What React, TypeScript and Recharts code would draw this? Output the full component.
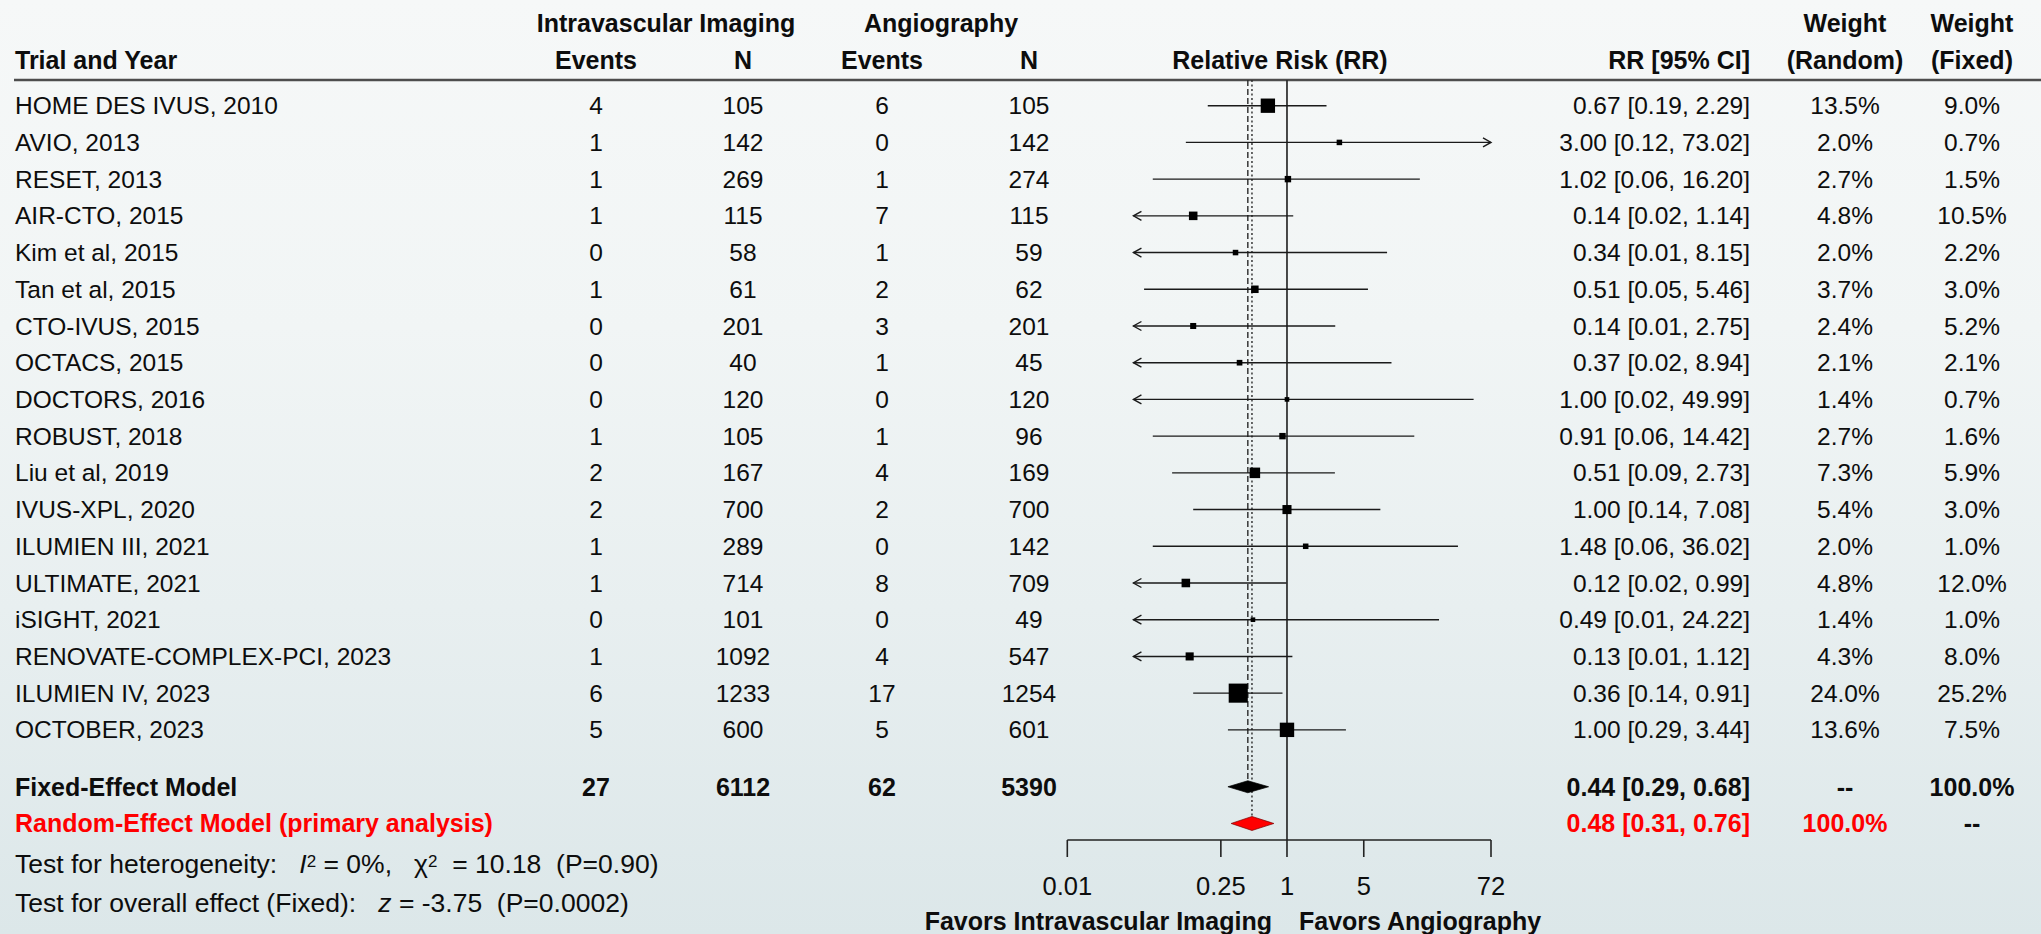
import React from "react";
import { ComposedChart, XAxis, YAxis, Scatter, ReferenceLine, Customized } from "recharts";

// ---------------- data ----------------
const trials = [
  "HOME DES IVUS, 2010",
  "AVIO, 2013",
  "RESET, 2013",
  "AIR-CTO, 2015",
  "Kim et al, 2015",
  "Tan et al, 2015",
  "CTO-IVUS, 2015",
  "OCTACS, 2015",
  "DOCTORS, 2016",
  "ROBUST, 2018",
  "Liu et al, 2019",
  "IVUS-XPL, 2020",
  "ILUMIEN III, 2021",
  "ULTIMATE, 2021",
  "iSIGHT, 2021",
  "RENOVATE-COMPLEX-PCI, 2023",
  "ILUMIEN IV, 2023",
  "OCTOBER, 2023",
];
const iviEvents = [4, 1, 1, 1, 0, 1, 0, 0, 0, 1, 2, 2, 1, 1, 0, 1, 6, 5];
const iviN = [105, 142, 269, 115, 58, 61, 201, 40, 120, 105, 167, 700, 289, 714, 101, 1092, 1233, 600];
const angioEvents = [6, 0, 1, 7, 1, 2, 3, 1, 0, 1, 4, 2, 0, 8, 0, 4, 17, 5];
const angioN = [105, 142, 274, 115, 59, 62, 201, 45, 120, 96, 169, 700, 142, 709, 49, 547, 1254, 601];
const rr = [0.67, 3.0, 1.02, 0.14, 0.34, 0.51, 0.14, 0.37, 1.0, 0.91, 0.51, 1.0, 1.48, 0.12, 0.49, 0.13, 0.36, 1.0];
const ciLow = [0.19, 0.12, 0.06, 0.02, 0.01, 0.05, 0.01, 0.02, 0.02, 0.06, 0.09, 0.14, 0.06, 0.02, 0.01, 0.01, 0.14, 0.29];
const ciHigh = [2.29, 73.02, 16.2, 1.14, 8.15, 5.46, 2.75, 8.94, 49.99, 14.42, 2.73, 7.08, 36.02, 0.99, 24.22, 1.12, 0.91, 3.44];
const weightRandom = [13.5, 2.0, 2.7, 4.8, 2.0, 3.7, 2.4, 2.1, 1.4, 2.7, 7.3, 5.4, 2.0, 4.8, 1.4, 4.3, 24.0, 13.6];
const weightFixed = [9.0, 0.7, 1.5, 10.5, 2.2, 3.0, 5.2, 2.1, 0.7, 1.6, 5.9, 3.0, 1.0, 12.0, 1.0, 8.0, 25.2, 7.5];

const fixedLabel = "Fixed-Effect Model";
const randomLabel = "Random-Effect Model (primary analysis)";
const fixedTotals = [27, 6112, 62, 5390];
const fixedSummary = [0.44, 0.29, 0.68];
const randomSummary = [0.48, 0.31, 0.76];
const xTicks = [0.01, 0.25, 1, 5, 72];
const heterogeneity = { i2: "0%", chi2: "10.18", p: "0.90" };
const overall = { z: "-3.75", p: "0.0002" };

// ---------------- layout ----------------
const W = 2041;
const H = 934;
const PLOT_LEFT = 1067.3;
const PLOT_RIGHT = 1491;
const PLOT_TOP = 80;
const X_AXIS_H = 94;
const CLIP_LO = 0.04;
const CLIP_HI = 72;
const Y_DOMAIN = [-0.7, 20];
const FIXED_ROW = 18.55;
const RANDOM_ROW = 19.55;
const rowTicks = [...trials.map((_, i) => i), FIXED_ROW, RANDOM_ROW];

const FONT = "'Liberation Sans', Arial, Helvetica, sans-serif";
const FS = 24.5;
const FSB = 25;
const FS_FOOT = 26.5;
const INK = "#0d0d0d";
const RED = "#ff0000";
const COL = {
  name: 15,
  ivEv: 596,
  ivN: 743,
  anEv: 882,
  anN: 1029,
  ivHead: 666,
  anHead: 941,
  rrHead: 1280,
  rr: 1750,
  wR: 1845,
  wF: 1972,
};

const f2 = (v: number) => v.toFixed(2);
const rrText = (e: number, l: number, h: number) => `${f2(e)} [${f2(l)}, ${f2(h)}]`;
const pct = (v: number) => `${v.toFixed(1)}%`;

const squareData = trials.map((t, i) => ({ x: rr[i], y: i, w: weightRandom[i], name: t }));

// ---------------- shapes ----------------
function Square(props: any) {
  const { cx, cy, payload } = props;
  if (cx == null || cy == null) return null;
  const s = 3.9 * Math.sqrt(payload.w);
  return <rect x={cx - s / 2} y={cy - s / 2} width={s} height={s} fill="#000" />;
}

function CI(props: any) {
  const { x1, y1, x2, y2, aL, aR } = props;
  const a = 8;
  const b = 4.5;
  return (
    <g stroke="#1a1a1a" strokeWidth={1.4} fill="none">
      <line x1={x1} y1={y1} x2={x2} y2={y2} />
      {aL && <polyline points={`${x1 + a},${y1 - b} ${x1},${y1} ${x1 + a},${y1 + b}`} />}
      {aR && <polyline points={`${x2 - a},${y2 - b} ${x2},${y2} ${x2 - a},${y2 + b}`} />}
    </g>
  );
}

function Diamond(props: any) {
  const { x1, y1, x2, est, lo, hi, h, fill, stroke } = props;
  const t = (Math.log(est) - Math.log(lo)) / (Math.log(hi) - Math.log(lo));
  const xm = x1 + (x2 - x1) * t;
  return (
    <polygon
      points={`${x1},${y1} ${xm},${y1 - h} ${x2},${y1} ${xm},${y1 + h}`}
      fill={fill}
      stroke={stroke}
      strokeWidth={0.7}
    />
  );
}

function SummaryLine(props: any) {
  const { x1, y1, y2, dash, gap } = props;
  const top = Math.min(y1, y2);
  const bottom = Math.max(y1, y2) - gap;
  return <line x1={x1} x2={x1} y1={top} y2={bottom} stroke="#2a2a2a" strokeWidth={1.4} strokeDasharray={dash} />;
}

// ---------------- row text (rendered as Y-axis ticks) ----------------
function RowTick(props: any) {
  const { y, payload } = props;
  const idx = rowTicks.indexOf(payload.value);
  const common = { y, dy: "0.35em", fontFamily: FONT } as any;
  if (idx >= 0 && idx < trials.length) {
    return (
      <g fontSize={FS} fill={INK}>
        <text {...common} x={COL.name} textAnchor="start">{trials[idx]}</text>
        <text {...common} x={COL.ivEv} textAnchor="middle">{iviEvents[idx]}</text>
        <text {...common} x={COL.ivN} textAnchor="middle">{iviN[idx]}</text>
        <text {...common} x={COL.anEv} textAnchor="middle">{angioEvents[idx]}</text>
        <text {...common} x={COL.anN} textAnchor="middle">{angioN[idx]}</text>
        <text {...common} x={COL.rr} textAnchor="end">{rrText(rr[idx], ciLow[idx], ciHigh[idx])}</text>
        <text {...common} x={COL.wR} textAnchor="middle">{pct(weightRandom[idx])}</text>
        <text {...common} x={COL.wF} textAnchor="middle">{pct(weightFixed[idx])}</text>
      </g>
    );
  }
  if (idx === trials.length) {
    return (
      <g fontSize={FSB} fontWeight="bold" fill={INK}>
        <text {...common} x={COL.name} textAnchor="start">{fixedLabel}</text>
        <text {...common} x={COL.ivEv} textAnchor="middle">{fixedTotals[0]}</text>
        <text {...common} x={COL.ivN} textAnchor="middle">{fixedTotals[1]}</text>
        <text {...common} x={COL.anEv} textAnchor="middle">{fixedTotals[2]}</text>
        <text {...common} x={COL.anN} textAnchor="middle">{fixedTotals[3]}</text>
        <text {...common} x={COL.rr} textAnchor="end">{rrText(fixedSummary[0], fixedSummary[1], fixedSummary[2])}</text>
        <text {...common} x={COL.wR} textAnchor="middle">--</text>
        <text {...common} x={COL.wF} textAnchor="middle">{pct(100)}</text>
      </g>
    );
  }
  if (idx === trials.length + 1) {
    return (
      <g fontSize={FSB} fontWeight="bold">
        <text {...common} x={COL.name} textAnchor="start" fill={RED}>{randomLabel}</text>
        <text {...common} x={COL.rr} textAnchor="end" fill={RED}>{rrText(randomSummary[0], randomSummary[1], randomSummary[2])}</text>
        <text {...common} x={COL.wR} textAnchor="middle" fill={RED}>{pct(100)}</text>
        <text {...common} x={COL.wF} textAnchor="middle" fill={INK}>--</text>
      </g>
    );
  }
  return null;
}

// ---------------- headers / footers ----------------
function Overlay() {
  const c = { dy: "0.35em" } as any;
  return (
    <g fontFamily={FONT}>
      <line x1={14} y1={PLOT_TOP} x2={W} y2={PLOT_TOP} stroke="#4d4d4d" strokeWidth={2.6} />
      <g fontSize={FSB} fontWeight="bold" fill={INK}>
        <text {...c} x={COL.ivHead} y={23} textAnchor="middle">Intravascular Imaging</text>
        <text {...c} x={COL.anHead} y={23} textAnchor="middle">Angiography</text>
        <text {...c} x={COL.wR} y={23} textAnchor="middle">Weight</text>
        <text {...c} x={COL.wF} y={23} textAnchor="middle">Weight</text>
        <text {...c} x={COL.name} y={60} textAnchor="start">Trial and Year</text>
        <text {...c} x={COL.ivEv} y={60} textAnchor="middle">Events</text>
        <text {...c} x={COL.ivN} y={60} textAnchor="middle">N</text>
        <text {...c} x={COL.anEv} y={60} textAnchor="middle">Events</text>
        <text {...c} x={COL.anN} y={60} textAnchor="middle">N</text>
        <text {...c} x={COL.rrHead} y={60} textAnchor="middle">Relative Risk (RR)</text>
        <text {...c} x={COL.rr} y={60} textAnchor="end">RR [95% CI]</text>
        <text {...c} x={COL.wR} y={60} textAnchor="middle">(Random)</text>
        <text {...c} x={COL.wF} y={60} textAnchor="middle">(Fixed)</text>
        <text x={1272} y={930} textAnchor="end">Favors Intravascular Imaging</text>
        <text x={1299} y={930} textAnchor="start">Favors Angiography</text>
      </g>
      <g fontSize={FS_FOOT} fill={INK}>
        <text x={COL.name} y={864} dy="0.35em" xmlSpace="preserve">
          {"Test for heterogeneity:   "}
          <tspan fontStyle="italic">I</tspan>
          <tspan fontSize={17} dy={-6}>2</tspan>
          <tspan dy={6}>{" = " + heterogeneity.i2 + ",   \u03C7"}</tspan>
          <tspan fontSize={17} dy={-6}>2</tspan>
          <tspan dy={6}>{"  = " + heterogeneity.chi2 + "  (P=" + heterogeneity.p + ")"}</tspan>
        </text>
        <text x={COL.name} y={903} dy="0.35em" xmlSpace="preserve">
          {"Test for overall effect (Fixed):   "}
          <tspan fontStyle="italic">z</tspan>
          {" = " + overall.z + "  (P=" + overall.p + ")"}
        </text>
      </g>
    </g>
  );
}

export default function App() {
  return (
    <div
      style={{
        position: "absolute",
        left: 0,
        top: 0,
        width: W,
        height: H,
        background: "linear-gradient(180deg, #f6f8f8 0%, #f1f5f5 35%, #e8eff0 65%, #dce7e9 100%)",
        overflow: "hidden",
      }}
    >
      <ComposedChart
        width={W}
        height={H}
        data={squareData}
        margin={{ top: PLOT_TOP, right: W - PLOT_RIGHT, bottom: 0, left: PLOT_LEFT - 1 }}
      >
        <XAxis
          dataKey="x"
          type="number"
          scale="log"
          domain={[xTicks[0], xTicks[xTicks.length - 1]]}
          allowDataOverflow
          ticks={xTicks}
          interval={0}
          height={X_AXIS_H}
          tickSize={17}
          tickMargin={20}
          axisLine={{ stroke: "#222", strokeWidth: 1.6 }}
          tickLine={{ stroke: "#222", strokeWidth: 1.6 }}
          tick={{ fontSize: 25.5, fontFamily: FONT, fill: INK }}
          tickFormatter={(v: number) => String(v)}
        />
        <YAxis
          dataKey="y"
          type="number"
          domain={Y_DOMAIN}
          reversed
          allowDataOverflow
          ticks={rowTicks}
          interval={0}
          width={1}
          axisLine={false}
          tickLine={false}
          tick={(p: any) => <RowTick {...p} />}
        />
        <ReferenceLine x={1} stroke="#2a2a2a" strokeWidth={1.7} ifOverflow="visible" />
        <ReferenceLine
          segment={[{ x: fixedSummary[0], y: Y_DOMAIN[0] }, { x: fixedSummary[0], y: FIXED_ROW }]}
          ifOverflow="visible"
          shape={(p: any) => <SummaryLine {...p} dash="6 3" gap={6} />}
        />
        <ReferenceLine
          segment={[{ x: randomSummary[0], y: Y_DOMAIN[0] }, { x: randomSummary[0], y: RANDOM_ROW }]}
          ifOverflow="visible"
          shape={(p: any) => <SummaryLine {...p} dash="2 2.5" gap={7} />}
        />
        {trials.map((t, i) => {
          const lo = Math.max(ciLow[i], CLIP_LO);
          const hi = Math.min(ciHigh[i], CLIP_HI);
          const aL = ciLow[i] < CLIP_LO;
          const aR = ciHigh[i] > CLIP_HI;
          return (
            <ReferenceLine
              key={t}
              segment={[{ x: lo, y: i }, { x: hi, y: i }]}
              ifOverflow="visible"
              shape={(p: any) => <CI {...p} aL={aL} aR={aR} />}
            />
          );
        })}
        <ReferenceLine
          segment={[{ x: fixedSummary[1], y: FIXED_ROW }, { x: fixedSummary[2], y: FIXED_ROW }]}
          ifOverflow="visible"
          shape={(p: any) => (
            <Diamond {...p} est={fixedSummary[0]} lo={fixedSummary[1]} hi={fixedSummary[2]} h={6} fill="#000" stroke="#000" />
          )}
        />
        <ReferenceLine
          segment={[{ x: randomSummary[1], y: RANDOM_ROW }, { x: randomSummary[2], y: RANDOM_ROW }]}
          ifOverflow="visible"
          shape={(p: any) => (
            <Diamond {...p} est={randomSummary[0]} lo={randomSummary[1]} hi={randomSummary[2]} h={7} fill={RED} stroke="#7a0000" />
          )}
        />
        <Scatter data={squareData} dataKey="x" shape={(p: any) => <Square {...p} />} isAnimationActive={false} />
        <Customized component={Overlay} />
      </ComposedChart>
    </div>
  );
}
